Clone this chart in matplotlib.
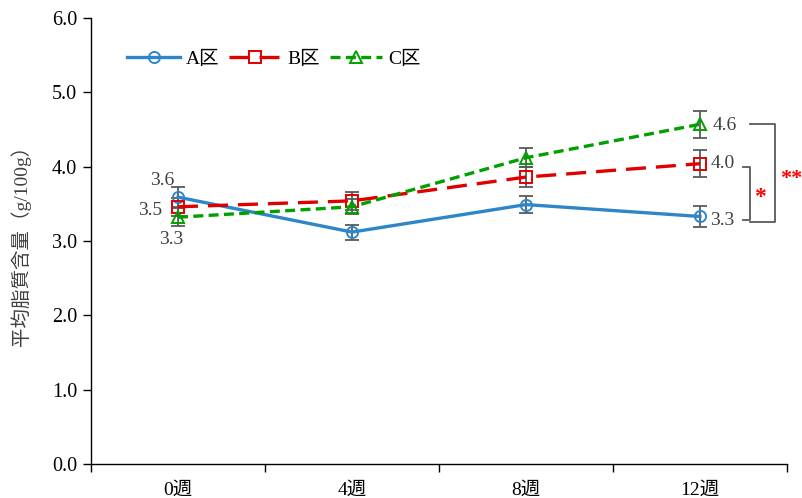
import matplotlib
matplotlib.use("Agg")
import matplotlib.pyplot as plt
import numpy as np

plt.rcParams['font.family'] = ['Liberation Serif', 'Noto Sans CJK JP']

weeks = ["0週", "4週", "8週", "12週"]
series_names = ["A区", "B区", "C区"]
a_vals = [3.59, 3.12, 3.49, 3.33]
b_vals = [3.46, 3.54, 3.86, 4.04]
c_vals = [3.32, 3.46, 4.12, 4.57]
a_err = [0.13, 0.10, 0.12, 0.14]
b_err = [0.12, 0.12, 0.13, 0.18]
c_err = [0.12, 0.10, 0.13, 0.18]
y_ticks = [0.0, 1.0, 2.0, 3.0, 4.0, 5.0, 6.0]

colors = ["#2E86C8", "#E00000", "#00A000"]
markers = ["o", "s", "^"]
dashes = [None, (6, 3), (3, 1.6)]

fig = plt.figure(figsize=(8.03, 4.98), dpi=100)
ax = fig.add_axes([91 / 803, 34 / 498, 696 / 803, 446 / 498])

x = np.arange(len(weeks)) + 0.5
handles = []
for vals, errs, name, col, mk, ds in zip([a_vals, b_vals, c_vals],
                                         [a_err, b_err, c_err],
                                         series_names, colors, markers, dashes):
    ax.errorbar(x, vals, yerr=errs, fmt='none', ecolor='#595959',
                elinewidth=1.3, capsize=5, capthick=1.3, zorder=2)
    line, = ax.plot(x, vals, color=col, lw=2.4, marker=mk, markersize=8,
                    markerfacecolor='none', markeredgecolor=col,
                    markeredgewidth=1.4, label=name, zorder=3)
    if ds is not None:
        line.set_dashes(ds)
    handles.append(line)

ax.set_xlim(0, 4)
ax.set_ylim(0, 6)
ax.set_yticks(y_ticks)
ax.set_yticklabels([f"{v:.1f}" for v in y_ticks], fontsize=14.5)
ax.set_xticks(np.arange(0, 5))
ax.set_xticklabels([])
ax.set_xticks(x, minor=True)
ax.set_xticklabels(weeks, minor=True, fontsize=14)
ax.tick_params(axis='x', which='major', direction='out', length=6, width=1)
ax.tick_params(axis='x', which='minor', length=0, pad=13)
ax.tick_params(axis='y', direction='out', length=6, width=1, pad=4)
for s in ['top', 'right']:
    ax.spines[s].set_visible(False)
for s in ['left', 'bottom']:
    ax.spines[s].set_linewidth(1.0)

ax.set_ylabel("平均脂質含量（g/100g）", fontsize=14, color='#404040', labelpad=15)

# value labels at week 0
lbl_kw = dict(fontsize=14, color='#404040')
ax.text(x[0] - 0.09, a_vals[0] + 0.23, f"{a_vals[0]:.1f}", ha='center', va='center', **lbl_kw)
ax.text(x[0] - 0.16, b_vals[0] - 0.05, f"{b_vals[0]:.1f}", ha='center', va='center', **lbl_kw)
ax.text(x[0] - 0.04, c_vals[0] - 0.3, f"{c_vals[0]:.1f}", ha='center', va='center', **lbl_kw)

# value labels at week 12
ax.text(x[3] + 0.07, c_vals[3] - 0.02, f"{c_vals[3]:.1f}", ha='left', va='center', **lbl_kw)
ax.text(x[3] + 0.06, b_vals[3] + 0.0, f"{b_vals[3]:.1f}", ha='left', va='center', **lbl_kw)
ax.text(x[3] + 0.06, a_vals[3] - 0.05, f"{a_vals[3]:.1f}", ha='left', va='center', **lbl_kw)

# significance brackets
bk = dict(color='#595959', lw=1.3, clip_on=False)
xi0, xi1 = x[3] + 0.245, x[3] + 0.29
ax.plot([xi0, xi1, xi1, xi0], [b_vals[3] - 0.05, b_vals[3] - 0.05, a_vals[3] - 0.05, a_vals[3] - 0.05], **bk)
xo0, xo1 = x[3] + 0.29, x[3] + 0.43
ax.plot([xo0, xo1, xo1, xo0], [c_vals[3], c_vals[3], a_vals[3] - 0.07, a_vals[3] - 0.07], **bk)
ax.text(x[3] + 0.345, 3.58, "*", color='#FF0000', fontsize=17, fontweight='bold',
        ha='center', va='center', clip_on=False)
ax.text(x[3] + 0.463, 3.84, "**", color='#FF0000', fontsize=16, fontweight='bold',
        ha='left', va='center', clip_on=False)

leg = ax.legend(handles=handles, loc='upper left', bbox_to_anchor=(0.027, 0.966),
                ncol=3, frameon=False, fontsize=14, handlelength=2.7,
                columnspacing=0.5, handletextpad=0.3)

fig.savefig("out.png", dpi=100)
